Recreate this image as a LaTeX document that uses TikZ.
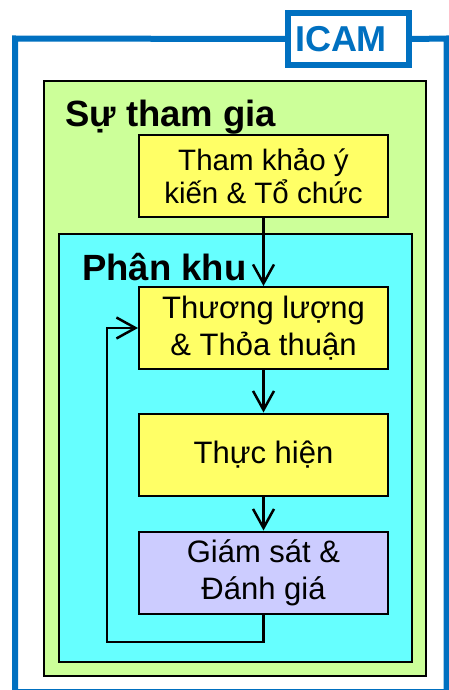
\documentclass[tikz,border=0pt]{standalone}
\usepackage{fontspec}
\setmainfont{Liberation Sans}
\usepackage{xcolor}
\definecolor{icamblue}{HTML}{0070C0}
\definecolor{limefill}{HTML}{CCFF99}
\definecolor{cyanfill}{HTML}{66FFFF}
\definecolor{stagefill}{HTML}{FFFF66}
\definecolor{checkfill}{HTML}{CCCCFF}
\usepackage{tikz}
\usetikzlibrary{arrows.meta}

\begin{document}
\begin{tikzpicture}[x=1pt,y=-1pt,
    stage/.style={draw=black,line width=2pt,fill=stagefill,
      minimum width=249pt,minimum height=82pt,inner sep=0pt,align=center,
      font=\fontsize{31}{37}\selectfont},
    title/.style={anchor=base west,inner sep=0pt,
      font=\fontsize{36.5}{40}\selectfont\bfseries},
    zone/.style={draw=black,line width=2pt},
    flow/.style={line width=2.5pt,-{Straight Barb[length=19pt,width=21pt]}}]
  \useasboundingbox (0,0) rectangle (449,690);

  % ICAM frame and label
  \node[draw=icamblue,line width=6pt,fill=white,text=icamblue,
    minimum height=52pt,text width=107pt,inner xsep=7pt,align=left,
    font=\fontsize{36}{40}\selectfont\bfseries] (icam) at (348.5,39) {ICAM};
  \draw[icamblue,line width=6pt] (icam.west) -- (15,38.5) -- (15,692)
    -- (446.5,692) -- (446.5,38.5) -- (icam.east);

  % nested zones
  \filldraw[zone,fill=limefill] (44,81) rectangle (426,676);
  \node[title] (part) at (65,127) {Sự tham gia};
  \filldraw[zone,fill=cyanfill] (59,234) rectangle (412,662);
  \node[title] (zoning) at (82,280) {Phân khu};

  % stages
  \node[stage,font=\fontsize{29.5}{33}\selectfont] (consult) at (263.5,176)
    {Tham khảo ý\\kiến \& Tổ chức};
  \node[stage] (nego) at (263.5,328) {Thương lượng\\\& Thỏa thuận};
  \node[stage] (impl) at (263.5,454.5) {Thực hiện};
  \node[stage,fill=checkfill] (eval) at (263.5,572.5) {Giám sát \&\\Đánh giá};

  \draw[flow] (consult) -- (nego);
  \draw[flow] (nego) -- (impl);
  \draw[flow] (impl) -- (eval);

  % feedback loop
  \coordinate (loop) at (107,642);
  \draw[flow] (eval.south) |- (loop) |- (nego.west);
\end{tikzpicture}
\end{document}
